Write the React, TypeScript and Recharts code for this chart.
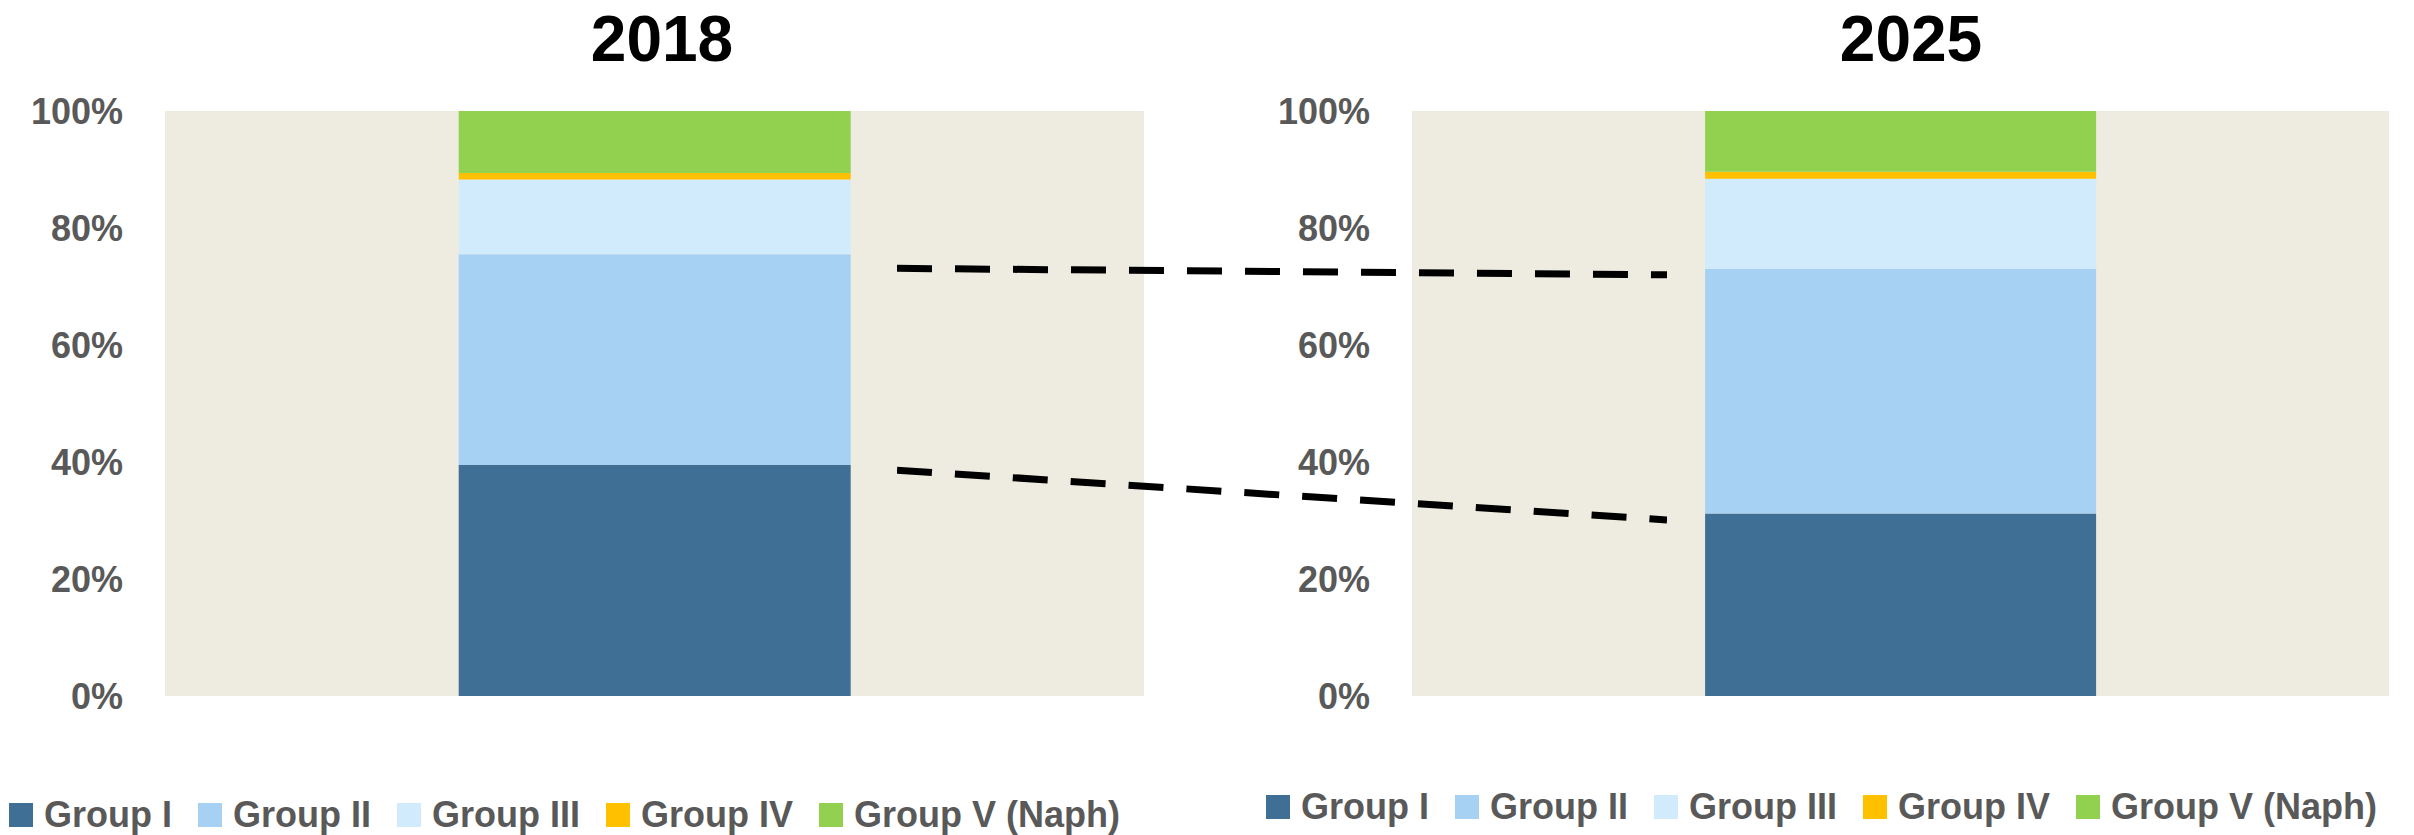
import React from "react"
import { BarChart, Bar, XAxis, YAxis, CartesianGrid, Legend, LineChart, Line } from "recharts"

// shares of base oil groups, % of total
const years = ["2018", "2025"]
const groupI = [39.5, 31.2]
const groupII = [36.0, 41.8]
const groupIII = [12.8, 15.4]
const groupIV = [1.1, 1.2]
const groupV = [10.6, 10.4]

// dashed connector levels between the two bars
const upperLink = [73.1, 72.0]
const lowerLink = [38.6, 30.1]

const yTicks = [0, 20, 40, 60, 80, 100]

const series = [
  { key: "groupI", name: "Group I", color: "#406F95" },
  { key: "groupII", name: "Group II", color: "#A6D1F2" },
  { key: "groupIII", name: "Group III", color: "#D1EBFD" },
  { key: "groupIV", name: "Group IV", color: "#FFC000" },
  { key: "groupV", name: "Group V (Naph)", color: "#92D050" },
]

const rows = years.map((year, i) => ({
  year,
  groupI: groupI[i],
  groupII: groupII[i],
  groupIII: groupIII[i],
  groupIV: groupIV[i],
  groupV: groupV[i],
}))

const linkRows = years.map((year, i) => ({ year, upper: upperLink[i], lower: lowerLink[i] }))

const FONT = "'Liberation Sans', Arial, sans-serif"
const GREY = "#595959"

function SquareLegend({ payload }: any) {
  return (
    <div style={{ display: "flex", alignItems: "center", height: 36 }}>
      {(payload || []).map((entry: any) => (
        <div key={entry.value} style={{ display: "flex", alignItems: "center", marginRight: 26 }}>
          <span style={{ width: 24, height: 24, background: entry.color, marginRight: 11, display: "inline-block" }} />
          <span style={{ fontFamily: FONT, fontWeight: 700, fontSize: 36, lineHeight: "36px", color: GREY, whiteSpace: "nowrap" }}>
            {entry.value}
          </span>
        </div>
      ))}
    </div>
  )
}

interface YearChartProps {
  index: number
  width: number
  axisWidth: number
  marginRight: number
  legendLeft: number
  legendTop: number
}

function YearChart({ index, width, axisWidth, marginRight, legendLeft, legendTop }: YearChartProps) {
  return (
    <BarChart
      width={width}
      height={835}
      data={[rows[index]]}
      margin={{ top: 111, right: marginRight, bottom: 139, left: 0 }}
      barCategoryGap="30%"
    >
      <CartesianGrid horizontal={false} vertical={false} fill="#EEEBE0" stroke="none" />
      <XAxis dataKey="year" hide />
      <YAxis
        width={axisWidth}
        domain={[0, 100]}
        ticks={yTicks}
        tickFormatter={(v) => `${v}%`}
        axisLine={false}
        tickLine={false}
        tickSize={0}
        tickMargin={42}
        tick={{ fill: GREY, fontSize: 36, fontWeight: 700, fontFamily: FONT }}
      />
      <Legend
        verticalAlign="middle"
        align="center"
        wrapperStyle={{ top: legendTop, left: legendLeft, width: width - legendLeft, height: 36 }}
        content={(props: any) => <SquareLegend {...props} />}
      />
      {series.map((s) => (
        <Bar key={s.key} dataKey={s.key} name={s.name} stackId="a" fill={s.color} isAnimationActive={false} />
      ))}
    </BarChart>
  )
}

const titleStyle: React.CSSProperties = {
  position: "absolute",
  top: 2,
  width: 300,
  textAlign: "center",
  fontFamily: FONT,
  fontWeight: 700,
  fontSize: 64,
  color: "#000",
}

export default function App() {
  return (
    <div style={{ position: "absolute", left: 0, top: 0, width: 2414, height: 835, background: "#fff" }}>
      <div style={{ ...titleStyle, left: 662 - 150 }}>{years[0]}</div>
      <div style={{ ...titleStyle, left: 1911 - 150 }}>{years[1]}</div>

      <div style={{ position: "absolute", left: 0, top: 0 }}>
        <YearChart index={0} width={1146} axisWidth={165} marginRight={2} legendLeft={9} legendTop={797} />
      </div>
      <div style={{ position: "absolute", left: 1207, top: 0 }}>
        <YearChart index={1} width={1207} axisWidth={205} marginRight={25} legendLeft={59} legendTop={789} />
      </div>

      <div style={{ position: "absolute", left: 897, top: 111 }}>
        <LineChart width={770} height={585} data={linkRows} margin={{ top: 0, right: 0, bottom: 0, left: 0 }}>
          <XAxis dataKey="year" hide padding={{ left: 0, right: 0 }} />
          <YAxis hide domain={[0, 100]} />
          <Line dataKey="upper" stroke="#000" strokeWidth={7} strokeDasharray="35 23" dot={false} isAnimationActive={false} />
          <Line dataKey="lower" stroke="#000" strokeWidth={7} strokeDasharray="35 23" dot={false} isAnimationActive={false} />
        </LineChart>
      </div>
    </div>
  )
}
